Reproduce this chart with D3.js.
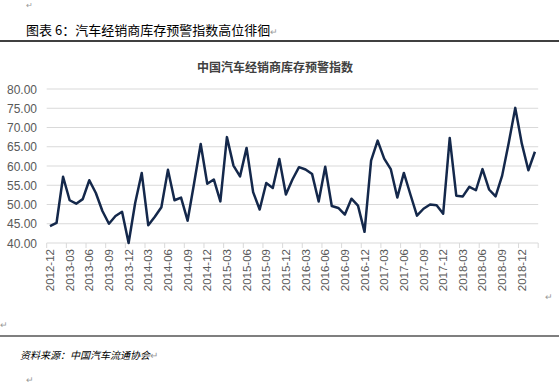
<!DOCTYPE html>
<html>
<head>
<meta charset="utf-8">
<script src="https://d3js.org/d3.v7.min.js"></script>
<style>
body { margin: 0; background: #fff; }
svg { display: block; }
</style>
</head>
<body>
<svg id="chart" width="559" height="384"></svg>
<script>
// monthly index, 2012-12 .. 2019-02
var months = [];
for (var y = 2012, m = 12; months.length < 75; ) {
  months.push(y + "-" + (m < 10 ? "0" + m : m));
  m++; if (m > 12) { m = 1; y++; }
}
var values = [44.4,45.2,57.2,51.1,50.2,51.4,56.3,53.0,48.3,45.0,47.0,48.1,
  40.0,50.4,58.2,44.6,46.8,49.3,59.0,51.1,51.8,45.8,55.6,65.7,
  55.4,56.5,50.8,67.5,60.1,57.3,64.7,53.2,48.7,55.6,54.3,61.8,
  52.6,56.5,59.7,59.1,57.9,50.8,59.8,49.6,49.1,47.4,51.5,49.7,
  42.9,61.4,66.6,61.9,59.2,51.8,58.2,52.6,47.1,48.9,50.0,49.8,
  47.6,67.3,52.3,52.1,54.6,53.7,59.2,53.9,52.1,57.5,66.0,75.1,
  65.8,58.9,63.7];
var yTicks = [40,45,50,55,60,65,70,75,80];

var svg = d3.select("#chart");
var mark = "\u21B5";

// word-doc furniture
svg.append("text").attr("x", 26).attr("y", 8).attr("font-size", 8).attr("fill", "#999").text(mark);
svg.append("text").attr("x", 26).attr("y", 35)
  .attr("font-family", "'Noto Sans CJK SC', sans-serif").attr("font-size", 13).attr("fill", "#000")
  .text("图表 6：汽车经销商库存预警指数高位徘徊")
  .append("tspan").attr("fill", "#999").attr("font-size", 9).text(mark);
svg.append("line").attr("x1", 0).attr("x2", 559).attr("y1", 41).attr("y2", 41)
  .attr("stroke", "#000").attr("stroke-width", 1.5);

svg.append("text").attr("x", 275).attr("y", 72).attr("text-anchor", "middle")
  .attr("font-family", "'Noto Sans CJK SC', sans-serif").attr("font-weight", "bold")
  .attr("font-size", 12).attr("fill", "#404040").text("中国汽车经销商库存预警指数");

var x = d3.scaleBand().domain(months).range([46.7, 538.2]);
var yS = d3.scaleLinear().domain([40, 80]).range([243, 89]);

// gridlines
svg.append("g").selectAll("line").data(yTicks.slice(1)).join("line")
  .attr("x1", 46.7).attr("x2", 538.2)
  .attr("y1", d => yS(d)).attr("y2", d => yS(d))
  .attr("stroke", "#d9d9d9").attr("stroke-width", 1);

// y labels
svg.append("g").selectAll("text").data(yTicks).join("text")
  .attr("x", 37).attr("y", d => yS(d) + 4.5).attr("text-anchor", "end")
  .attr("font-family", "'Liberation Sans', Arial, sans-serif").attr("font-size", 12)
  .attr("fill", "#595959").text(d => d.toFixed(2));

// x axis
var xAxis = svg.append("g").attr("transform", "translate(0,243)");
xAxis.append("line").attr("x1", 46.7).attr("x2", 538.2).attr("stroke", "#d9d9d9");
var tickIdx = d3.range(0, 76, 3);
xAxis.selectAll("line.tk").data(tickIdx).join("line").attr("class", "tk")
  .attr("x1", i => i < 75 ? x(months[i]) : x.range()[1])
  .attr("x2", i => i < 75 ? x(months[i]) : x.range()[1])
  .attr("y1", 0).attr("y2", 5).attr("stroke", "#d9d9d9");
var labelled = months.filter((d, i) => i % 3 === 0);
xAxis.selectAll("text").data(labelled).join("text")
  .attr("transform", d => "translate(" + (x(d) + x.bandwidth() / 2 + 4) + ",6) rotate(-90)")
  .attr("text-anchor", "end")
  .attr("font-family", "'Liberation Sans', Arial, sans-serif").attr("font-size", 11.5)
  .attr("fill", "#595959").text(d => d);

// series
var line = d3.line().x((d, i) => x(months[i]) + x.bandwidth() / 2).y(d => yS(d));
svg.append("path").datum(values).attr("d", line)
  .attr("fill", "none").attr("stroke", "#14284b").attr("stroke-width", 2.5)
  .attr("stroke-linejoin", "round");

svg.append("text").attr("x", 545).attr("y", 300).attr("font-size", 9).attr("fill", "#999").text(mark);
svg.append("text").attr("x", 0).attr("y", 328).attr("font-size", 9).attr("fill", "#999").text(mark);
svg.append("line").attr("x1", 0).attr("x2", 559).attr("y1", 336).attr("y2", 336)
  .attr("stroke", "#000").attr("stroke-width", 1.2);
svg.append("text").attr("x", 20).attr("y", 359)
  .attr("font-family", "'Noto Sans CJK SC', sans-serif").attr("font-size", 10)
  .attr("font-style", "italic").attr("fill", "#000")
  .text("资料来源：中国汽车流通协会")
  .append("tspan").attr("fill", "#999").attr("font-style", "normal").text(mark);
svg.append("text").attr("x", 26).attr("y", 383).attr("font-size", 9).attr("fill", "#999").text(mark);
</script>
</body>
</html>
